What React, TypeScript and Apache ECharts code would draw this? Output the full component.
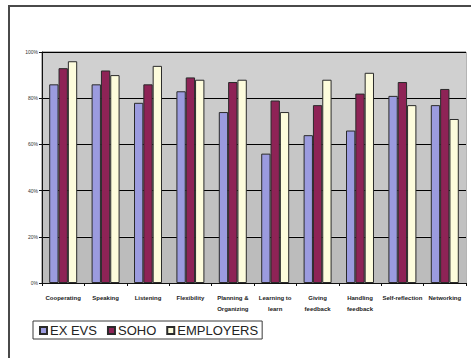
import React, { useEffect, useRef } from "react";
import * as echarts from "echarts";

const categories = [
  "Cooperating",
  "Speaking",
  "Listening",
  "Flexibility",
  "Planning &\nOrganizing",
  "Learning to\nlearn",
  "Giving\nfeedback",
  "Handling\nfeedback",
  "Self-reflection",
  "Networking",
];
const exEvs = [86, 86, 78, 83, 74, 56, 64, 66, 81, 77];
const soho = [93, 92, 86, 89, 87, 79, 77, 82, 87, 84];
const employers = [96, 90, 94, 88, 88, 74, 88, 91, 77, 71];
const yTicks = [0, 20, 40, 60, 80, 100];

const GRID = { left: 42, top: 52, right: 5, bottom: 75 };
const W = 471;
const H = 358;

export default function App() {
  const ref = useRef<HTMLDivElement>(null);

  useEffect(() => {
    if (!ref.current) return;
    const chart = echarts.init(ref.current, null, { renderer: "svg" });
    const barStyle = (color: string) => ({
      color,
      borderColor: "#2a2a2a",
      borderWidth: 1,
    });
    chart.setOption({
      animation: false,
      backgroundColor: "#ffffff",
      graphic: {
        elements: [
          {
            type: "polyline",
            silent: true,
            shape: {
              points: [
                [9, 360],
                [9, 6],
                [473, 6],
              ],
            },
            style: { fill: null, stroke: "#4a4a4a", lineWidth: 2 },
          },
        ],
      },
      grid: {
        ...GRID,
        show: true,
        borderColor: "#6a6a6a",
        borderWidth: 1,
      },
      legend: {
        left: 33,
        top: 321,
        orient: "horizontal",
        backgroundColor: "#ffffff",
        borderColor: "#3a3a3a",
        borderWidth: 1,
        padding: [3, 4, 2, 6],
        itemWidth: 7,
        itemHeight: 7,
        itemGap: 10,
        icon: "rect",
        textStyle: {
          fontFamily: "Liberation Sans, Arial, sans-serif",
          fontSize: 13,
          color: "#222",
          padding: [0, 0, 0, -2],
        },
        data: ["EX EVS", "SOHO", "EMPLOYERS"],
      },
      xAxis: {
        type: "category",
        data: categories,
        axisLine: { lineStyle: { color: "#111", width: 1 } },
        axisTick: { show: true, length: 3, lineStyle: { color: "#111" } },
        axisLabel: {
          interval: 0,
          margin: 9,
          fontSize: 6,
          fontWeight: "bold",
          lineHeight: 11,
          color: "#222",
          fontFamily: "Liberation Sans, Arial, sans-serif",
        },
      },
      yAxis: {
        type: "value",
        min: 0,
        max: 100,
        interval: 20,
        axisLine: { show: true, lineStyle: { color: "#111" } },
        axisTick: { show: true, length: 3, lineStyle: { color: "#111" } },
        axisLabel: {
          formatter: (v: number) => (yTicks.includes(v) ? v + "%" : ""),
          fontSize: 5,
          margin: 4,
          color: "#333",
          fontFamily: "Liberation Sans, Arial, sans-serif",
        },
        splitLine: { show: true, lineStyle: { color: "#000", width: 1 } },
        // grey plot fill, a touch darker towards the base
        splitArea: {
          show: true,
          areaStyle: {
            color: ["#bcbcbc", "#c1c1c1", "#c6c6c6", "#cbcbcb", "#d0d0d0"],
          },
        },
      },
      series: [
        {
          name: "EX EVS",
          type: "bar",
          data: exEvs,
          barGap: "0%",
          barCategoryGap: "34%",
          itemStyle: barStyle("#9b9bdf"),
        },
        {
          name: "SOHO",
          type: "bar",
          data: soho,
          barGap: "0%",
          barCategoryGap: "34%",
          itemStyle: barStyle("#8e2356"),
        },
        {
          name: "EMPLOYERS",
          type: "bar",
          data: employers,
          barGap: "0%",
          barCategoryGap: "34%",
          itemStyle: barStyle("#fdfcdc"),
        },
      ],
    });
    return () => chart.dispose();
  }, []);

  return (
    <div
      ref={ref}
      style={{ position: "fixed", left: 0, top: 0, width: W, height: H }}
    />
  );
}
